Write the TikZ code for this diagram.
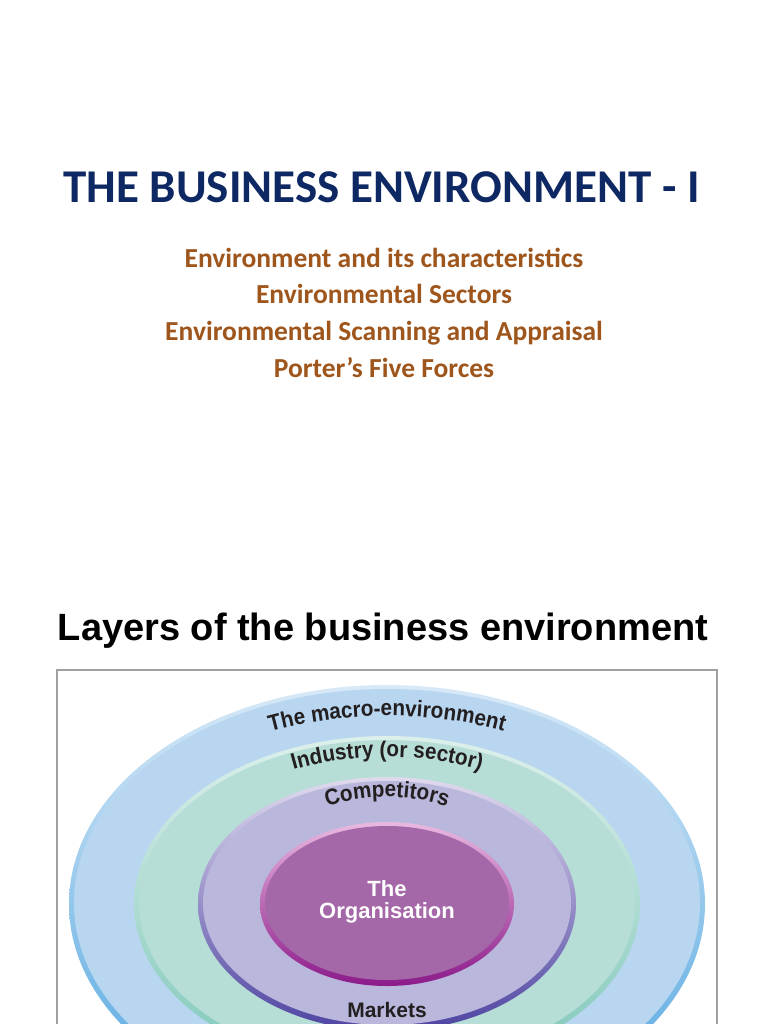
\documentclass[tikz,border=0pt]{standalone}
\usepackage{fontspec}
\setmainfont{Carlito}
\newfontfamily\arialfont{Liberation Sans}
\newfontfamily\ringfam[FakeStretch=0.92]{Liberation Sans}
\usepackage{tikz}
\usetikzlibrary{decorations.text, positioning}

\definecolor{titleblue}{HTML}{0D2862}
\definecolor{topicbrown}{HTML}{9E561C}
\definecolor{labelgray}{HTML}{231F20}
\definecolor{framegray}{HTML}{A0A0A0}
\definecolor{macrolight}{HTML}{D8E9F7}
\definecolor{macrodark}{HTML}{4FA5E0}
\definecolor{macrofill}{HTML}{B9D6F1}
\definecolor{indlight}{HTML}{DDF0EB}
\definecolor{inddark}{HTML}{7EC7B9}
\definecolor{indfill}{HTML}{B6DDD6}
\definecolor{complight}{HTML}{E0DAEE}
\definecolor{compdark}{HTML}{4E44A2}
\definecolor{compfill}{HTML}{B9B7DC}
\definecolor{orglight}{HTML}{E8B9E0}
\definecolor{orgdark}{HTML}{8C1A8A}
\definecolor{orgfill}{HTML}{A467A8}

\newcommand{\ringfont}{\ringfam\bfseries\fontsize{22.5}{26}\selectfont}
% one layer: x radius, y radius, inner x radius, inner y radius, colour prefix
\newcommand{\layerring}[5]{%
  \shade[top color=#5light, bottom color=#5dark] (c) ellipse [x radius=#1, y radius=#2];
  \fill[#5fill] ([yshift=1pt]c) ellipse [x radius=#3, y radius=#4];}

\begin{document}
\begin{tikzpicture}[x=1pt, y=1pt,
    heading/.style={anchor=base, text=titleblue, font=\bfseries\fontsize{47}{56}\selectfont},
    topic/.style={anchor=base, text=topicbrown, font=\bfseries\fontsize{27.5}{33}\selectfont},
    slidetitle/.style={anchor=base, text=black, font=\arialfont\bfseries\fontsize{38}{46}\selectfont},
    ringlabel/.style={decorate, decoration={text along path, text align=center, text color=labelgray}},
    centre/.style={align=center, text=white, font=\arialfont\bfseries\fontsize{22}{22}\selectfont}]

    \useasboundingbox[fill=white] (0,0) rectangle (768,-1024);

    \node [heading] (title) at (381.5,-203) {THE BUSINESS ENVIRONMENT - I};
    \node [topic] (topic1) at (384,-267) {Environment and its characteristics};
    \node [topic] (topic2) at (384,-303.7) {Environmental Sectors};
    \node [topic] (topic3) at (384,-340.4) {Environmental Scanning and Appraisal};
    \node [topic] (topic4) at (384,-377) {Porter’s Five Forces};

    \node [slidetitle] (layers) at (383,-640) {Layers of the business environment};

    \coordinate (c) at (387,-904);
    \begin{scope}
      \clip (57,-670) rectangle (717,-1024);
      \layerring{318}{219}{313}{214}{macro}
      \layerring{253}{168}{248}{163}{ind}
      \layerring{189}{127}{184}{122}{comp}
      \layerring{127}{82}{122}{77}{org}

      \path [ringlabel, decoration={text={|\ringfont|The macro-environment}}]
        ([shift={(150:295 and 188)}]c) arc [start angle=150, end angle=30, x radius=295, y radius=188];
      \path [ringlabel, decoration={text={|\ringfont|Industry (or sector)}}]
        ([shift={(150:228 and 147)}]c) arc [start angle=150, end angle=30, x radius=228, y radius=147];
      \path [ringlabel, decoration={text={|\ringfont|Competitors}}]
        ([shift={(150:145 and 107)}]c) arc [start angle=150, end angle=30, x radius=145, y radius=107];

      \node [centre] (org) at (387,-902) {The\\Organisation};
      \node [text=labelgray, font=\arialfont\bfseries\fontsize{21}{25}\selectfont] (markets) at (387,-1010) {Markets};
    \end{scope}

    \draw [framegray, line width=1.5pt] (57,-1030) |- (717,-670) -- (717,-1030);
\end{tikzpicture}
\end{document}
